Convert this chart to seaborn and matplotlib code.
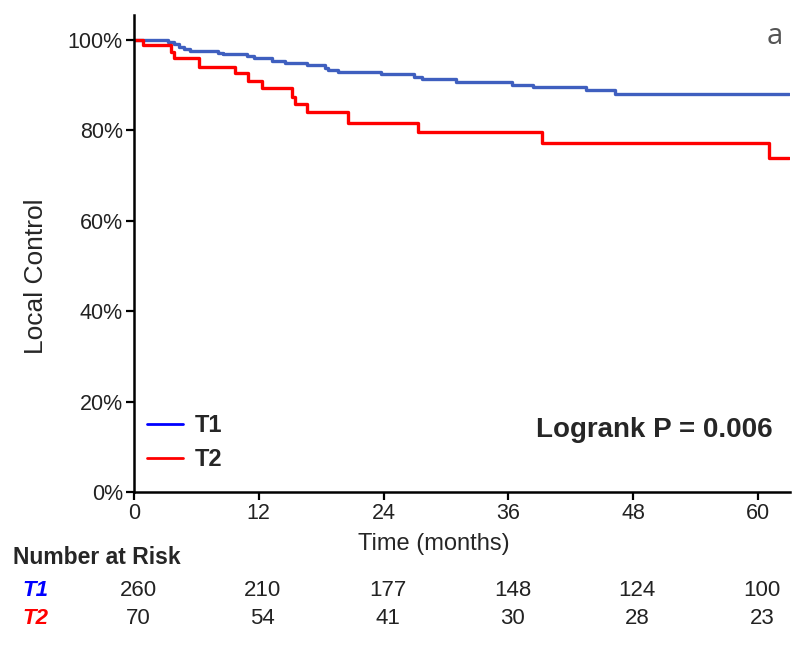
import numpy as np
import pandas as pd
import seaborn as sns
import matplotlib.pyplot as plt
import matplotlib.transforms as mtransforms
from matplotlib.lines import Line2D

# Kaplan-Meier step curves (time in months, local control fraction)
t1_months = [0, 3.3, 3.8, 4.3, 4.8, 5.4, 8.1, 8.6, 10.9, 11.5, 13.3, 14.5, 16.6,
             18.4, 18.7, 19.6, 23.8, 26.9, 27.7, 31.0, 36.4, 38.4, 43.5, 46.3, 63.0]
t1_control = [1.0, 0.995, 0.99, 0.985, 0.98, 0.976, 0.972, 0.968, 0.964, 0.959, 0.954, 0.949, 0.944,
              0.938, 0.933, 0.929, 0.924, 0.918, 0.913, 0.907, 0.901, 0.896, 0.889, 0.881, 0.881]

t2_months = [0, 0.9, 3.6, 3.8, 6.3, 9.7, 11.0, 12.3, 15.2, 15.5, 16.6, 20.6, 27.3, 39.2, 61.1, 63.0]
t2_control = [1.0, 0.988, 0.974, 0.96, 0.94, 0.926, 0.909, 0.893, 0.874, 0.858, 0.84, 0.817,
              0.797, 0.772, 0.738, 0.738]

# number at risk table
risk_times = [0, 12, 24, 36, 48, 60]
t1_at_risk = [260, 210, 177, 148, 124, 100]
t2_at_risk = [70, 54, 41, 30, 28, 23]

groups = ["T1", "T2"]
curve_colors = {"T1": "#3f5fbf", "T2": "#ff0000"}
label_colors = {"T1": "#0000ff", "T2": "#ff0000"}

df = pd.concat([
    pd.DataFrame({"month": t1_months, "control": t1_control, "group": "T1"}),
    pd.DataFrame({"month": t2_months, "control": t2_control, "group": "T2"}),
], ignore_index=True)

sns.set_style("ticks")
plt.rcParams['font.family'] = ['Liberation Sans', 'DejaVu Sans']

fig = plt.figure(figsize=(8, 6.48), dpi=100)
ax = fig.add_axes([0.1675, 0.2407, 0.82, 0.736])

sns.lineplot(data=df, x="month", y="control", hue="group", palette=curve_colors,
             drawstyle="steps-post", estimator=None, sort=False, linewidth=2.4,
             legend=False, ax=ax)

ax.set_xlim(0, 63.1)
ax.set_ylim(0, 1.055)
ax.set_xticks(risk_times)
ax.set_yticks([0, 0.2, 0.4, 0.6, 0.8, 1.0])
ax.set_yticklabels(["0%", "20%", "40%", "60%", "80%", "100%"])
ax.tick_params(axis="both", direction="out", length=6, width=1.6, labelsize=15.5,
               color="black", labelcolor="#222222", pad=2)
for side in ["top", "right"]:
    ax.spines[side].set_visible(False)
for side in ["left", "bottom"]:
    ax.spines[side].set_linewidth(1.8)
    ax.spines[side].set_color("black")
ax.set_xlabel("")
ax.set_ylabel("")

fig.text(0.045, 0.573, "Local Control", rotation=90, ha="center", va="center", fontsize=19)
fig.text(434 / 800, 1 - 544 / 648, "Time (months)", ha="center", va="center", fontsize=17)

# legend
handles = [Line2D([0], [0], color=label_colors[g], lw=2) for g in groups]
ax.legend(handles, groups, loc="lower left", bbox_to_anchor=(-0.012, 0.0), frameon=False,
          prop={"weight": "bold", "size": 17}, handlelength=1.5, handletextpad=0.5,
          labelspacing=0.45)

ax.text(0.974, 0.13, "Logrank P = 0.006", transform=ax.transAxes, ha="right", va="center",
        fontsize=20, fontweight="bold")

fig.text(0.969, 0.943, "a", ha="center", va="center", fontsize=21, color="#555555",
         family=["Open Sans", "DejaVu Sans"])

# number at risk table
trans = mtransforms.blended_transform_factory(ax.transData, fig.transFigure)
fig.text(13 / 800, 1 - 558 / 648, "Number at Risk", ha="left", va="center",
         fontsize=16.5, fontweight="bold")
row_y = {"T1": 1 - 590 / 648, "T2": 1 - 618 / 648}
row_vals = {"T1": t1_at_risk, "T2": t2_at_risk}
for g in groups:
    fig.text(22 / 800, row_y[g], g, ha="left", va="center", fontsize=16,
             fontweight="bold", fontstyle="italic", color=label_colors[g])
    for t, n in zip(risk_times, row_vals[g]):
        ax.text(t + 0.4, row_y[g], str(n), transform=trans, ha="center", va="center",
                fontsize=16, color="#222222")

fig.savefig("out.png", dpi=100)
